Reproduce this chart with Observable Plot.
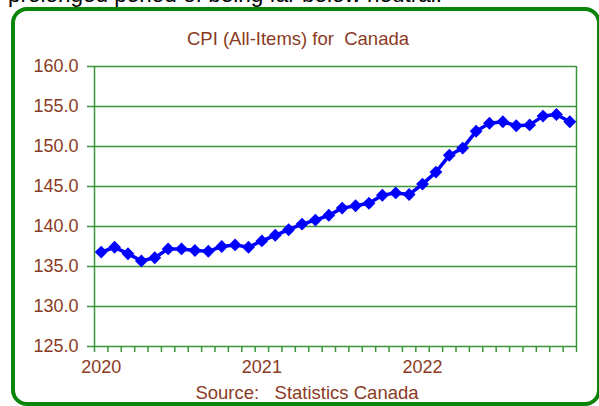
<!DOCTYPE html>
<html>
<head>
<meta charset="utf-8">
<script src="https://cdn.jsdelivr.net/npm/d3@7"></script>
<script src="https://cdn.jsdelivr.net/npm/@observablehq/plot@0.6"></script>
<style>
  html, body { margin: 0; padding: 0; background: #fff; }
  #wrap { position: relative; width: 599px; height: 406px; overflow: hidden; font-family: "Liberation Sans", Arial, sans-serif; }
  #lead { position: absolute; left: 8px; top: -16px; font-size: 22.5px; line-height: 22px; color: #000; white-space: nowrap; }
  #box { position: absolute; left: 11px; top: 7px; width: 590px; height: 399px; box-sizing: border-box; border: 4px solid #0a850a; border-radius: 16px; background: #fff; }
  #chart { position: absolute; left: 0; top: 0; }
  .lbl { position: absolute; color: #8a3b24; font-size: 18.5px; white-space: pre; text-align: center; }
  #title { left: 0; width: 596px; top: 28px; }
  #source { left: 0; width: 614px; top: 382px; }
</style>
</head>
<body>
<div id="wrap">
  <div id="lead">prolonged period of being far below neutral.</div>
  <div id="box"></div>
  <div id="chart"></div>
  <div id="title" class="lbl">CPI (All-Items) for  Canada</div>
  <div id="source" class="lbl">Source:   Statistics Canada</div>
</div>
<script>
// Monthly CPI, Jan 2020 – Dec 2022
const months = [
  "2020-01","2020-02","2020-03","2020-04","2020-05","2020-06","2020-07","2020-08","2020-09","2020-10","2020-11","2020-12",
  "2021-01","2021-02","2021-03","2021-04","2021-05","2021-06","2021-07","2021-08","2021-09","2021-10","2021-11","2021-12",
  "2022-01","2022-02","2022-03","2022-04","2022-05","2022-06","2022-07","2022-08","2022-09","2022-10","2022-11","2022-12"
];
const cpi = [
  136.8, 137.4, 136.6, 135.7, 136.1, 137.2, 137.2, 137.0, 136.9, 137.5, 137.7, 137.4,
  138.2, 138.9, 139.6, 140.3, 140.8, 141.4, 142.3, 142.6, 142.9, 143.9, 144.2, 144.0,
  145.3, 146.8, 148.9, 149.8, 151.9, 152.9, 153.1, 152.6, 152.7, 153.8, 154.0, 153.1
];
const years = ["2020", "2021", "2022"];
const yTicks = [125, 130, 135, 140, 145, 150, 155, 160];

const data = months.map((m, i) => ({month: m, idx: i + 0.5, value: cpi[i]}));
const monthEdges = d3.range(months.length + 1);
const yearPos = years.map((y, i) => i * 12 + 0.5);

const grid = "#3a953a";
const brown = "#8a3b24";
const blue = "#0000ff";

const chart = Plot.plot({
  width: 599,
  height: 406,
  marginLeft: 94,
  marginRight: 23,
  marginTop: 66,
  marginBottom: 60,
  style: {fontFamily: "'Liberation Sans', Arial, sans-serif", fontSize: "18px", background: "transparent", overflow: "visible"},
  x: {domain: [0, months.length], label: null},
  y: {domain: [125, 160], label: null},
  marks: [
    Plot.ruleY(yTicks, {stroke: grid, strokeWidth: 1.5}),
    Plot.ruleX([0, months.length], {stroke: grid, strokeWidth: 1.5}),
    Plot.axisY(yTicks, {tickSize: 7, tickPadding: 9, tickFormat: d => d.toFixed(1), stroke: grid, strokeWidth: 1.5, fill: brown, fontSize: 18, label: null}),
    Plot.axisX(monthEdges, {tickSize: 6, tickFormat: () => "", stroke: grid, strokeWidth: 1.5, label: null}),
    Plot.axisX(yearPos, {tickSize: 0, tickPadding: 14, tickFormat: d => years[Math.floor(d / 12)], fill: brown, fontSize: 18, label: null}),
    Plot.line(data, {x: "idx", y: "value", stroke: blue, strokeWidth: 3.5}),
    Plot.dot(data, {x: "idx", y: "value", symbol: "diamond2", r: 5.8, fill: blue, stroke: "none"})
  ]
});
document.getElementById("chart").appendChild(chart);
</script>
</body>
</html>
